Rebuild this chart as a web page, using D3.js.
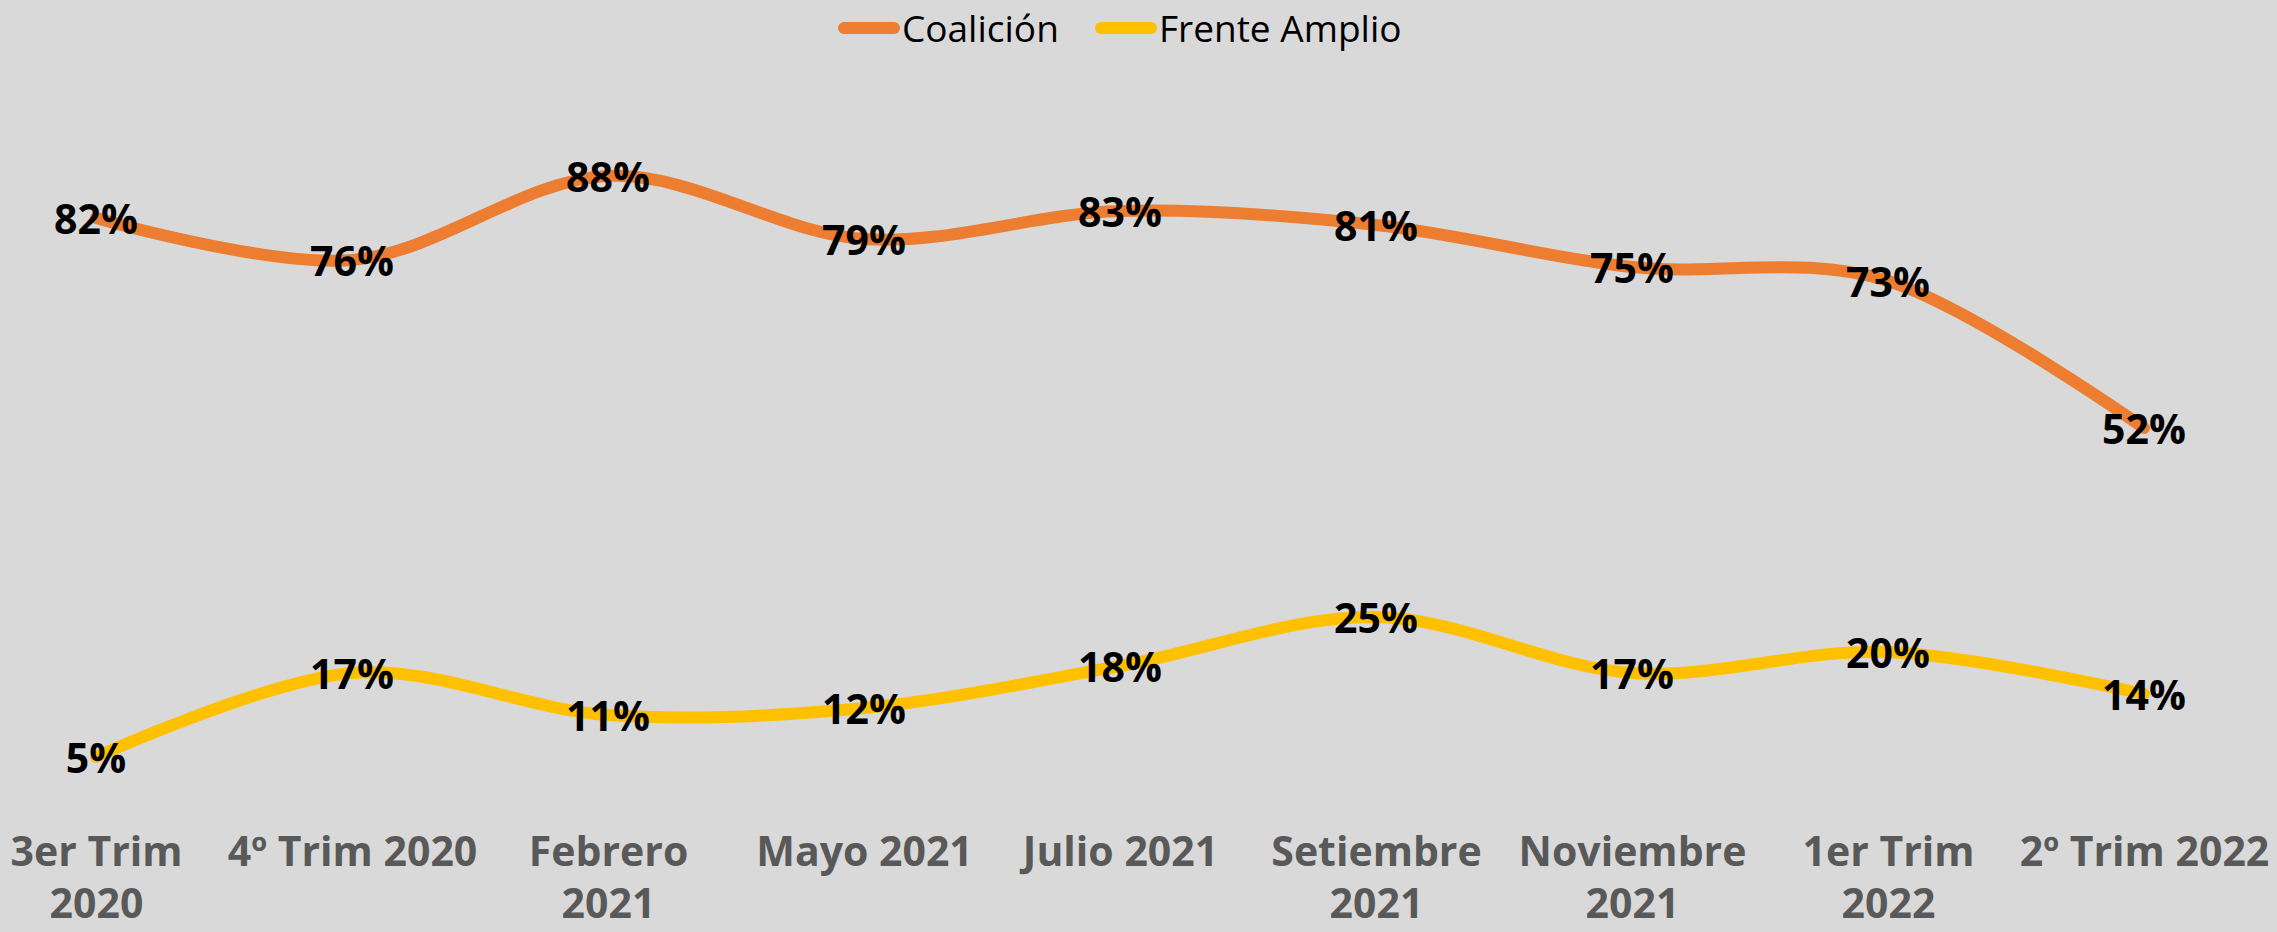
<!DOCTYPE html>
<html>
<head>
<meta charset="utf-8">
<script src="https://cdn.jsdelivr.net/npm/d3@7"></script>
<style>
  body { margin: 0; background: #d9d9d9; }
  svg { display: block; }
</style>
</head>
<body>
<div id="chart"></div>
<script>
let width = 2277;
let height = 932;

// categories (line breaks as in the original axis)
let categories = ["3er Trim\n2020", "4º Trim 2020", "Febrero\n2021", "Mayo 2021", "Julio 2021",
  "Setiembre\n2021", "Noviembre\n2021", "1er Trim\n2022", "2º Trim 2022"];

let seriesNames = ["Coalición", "Frente Amplio"];
let coalicion = [82, 76, 88, 79, 83, 81, 75, 73, 52];
let frenteAmplio = [5, 17, 11, 12, 18, 25, 17, 20, 14];
let seriesColors = ["#ed7d31", "#ffc000"];

let svg = d3.select("#chart")
  .append("svg")
    .attr("width", width)
    .attr("height", height)
    .style("background", "#d9d9d9");

let xScale = d3.scalePoint().domain(categories).range([96, 2144]);
let yScale = d3.scaleLinear().domain([0, 100]).range([792, 92]);

// x axis, no line or ticks, just the labels
let xAxis = d3.axisBottom(xScale).tickSize(0).tickFormat("");
let xAxisGroup = svg.append("g")
    .attr("class", "xaxis")
    .call(xAxis);
xAxisGroup.select(".domain").remove();

xAxisGroup.selectAll(".tick").each(function(d){
  let lines = d.split("\n");
  let t = d3.select(this).append("text")
    .attr("fill", "#595959")
    .attr("text-anchor", "middle")
    .style("font-family", "'Open Sans', 'Liberation Sans', sans-serif")
    .style("font-weight", "bold")
    .style("font-size", "41px");
  lines.forEach((line, i) => {
    t.append("tspan")
      .attr("x", 0)
      .attr("y", 866 + i * 52)
      .text(line);
  });
});

let series = [coalicion, frenteAmplio];

let line = d3.line()
  .x((d, i) => xScale(categories[i]))
  .y(d => yScale(d))
  .curve(d3.curveCatmullRom.alpha(0));

svg.selectAll(".serie").data(series).enter()
  .append("path")
    .attr("class", "serie")
    .attr("d", d => line(d))
    .attr("fill", "none")
    .attr("stroke", (d, i) => seriesColors[i])
    .attr("stroke-width", 12)
    .attr("stroke-linecap", "round")
    .attr("stroke-linejoin", "round");

// data labels centered on the points
series.forEach(values => {
  svg.append("g").selectAll("text").data(values).enter()
    .append("text")
      .attr("x", (d, i) => xScale(categories[i]))
      .attr("y", d => yScale(d) + 16)
      .attr("text-anchor", "middle")
      .attr("fill", "#000")
      .style("font-family", "'Open Sans', 'Liberation Sans', sans-serif")
      .style("font-weight", "bold")
      .style("font-size", "41px")
      .text(d => d + "%");
});

// legend
let legendX = [844, 1101];
let legend = svg.selectAll(".legend").data(seriesNames).enter()
  .append("g")
    .attr("class", "legend")
    .attr("transform", (d, i) => "translate(" + legendX[i] + ",28)");

legend.append("line")
  .attr("x1", 0)
  .attr("x2", 50)
  .attr("y1", 0)
  .attr("y2", 0)
  .attr("stroke", (d, i) => seriesColors[i])
  .attr("stroke-width", 12)
  .attr("stroke-linecap", "round");

legend.append("text")
  .attr("x", 58)
  .attr("y", 14)
  .attr("fill", "#000")
  .style("font-family", "'Open Sans', sans-serif")
  .style("font-size", "37px")
  .text(d => d);
</script>
</body>
</html>
